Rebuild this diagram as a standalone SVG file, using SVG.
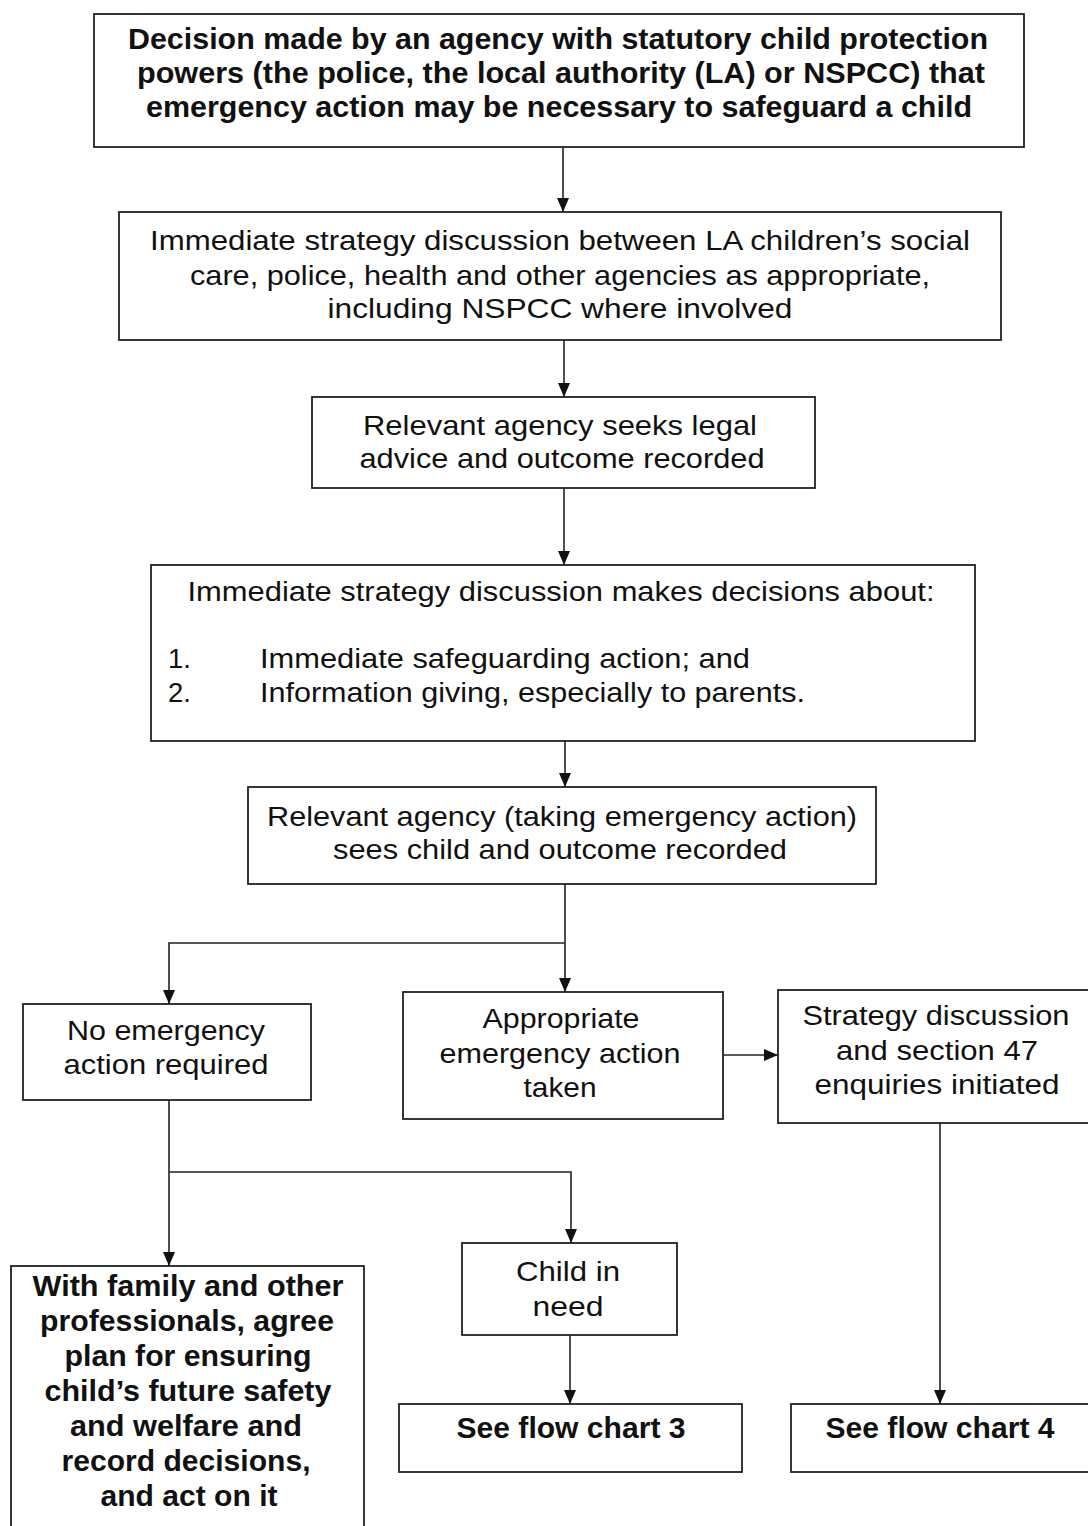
<svg xmlns="http://www.w3.org/2000/svg" width="1088" height="1526" viewBox="0 0 1088 1526">
<defs>
<marker id="ah" viewBox="0 0 14 12" refX="14" refY="6" markerWidth="14" markerHeight="12" markerUnits="userSpaceOnUse" orient="auto">
<path d="M0,0 L14,6 L0,12 z" fill="#111"/>
</marker>
<style>
rect{fill:#fff;stroke:#222;stroke-width:1.8}
text{font-family:"Liberation Sans",Arial,sans-serif;font-size:27.5px;fill:#111;text-anchor:middle}
.b{font-weight:bold;font-size:29px}
.l{text-anchor:start}
#connectors line,#connectors polyline{stroke:#222;stroke-width:1.6;fill:none}
.a{marker-end:url(#ah)}
</style>
</defs>
<rect x="0" y="0" width="1088" height="1526" style="fill:#fff;stroke:none"/>
<g id="connectors">
<line class="a" x1="563" y1="147" x2="563" y2="212"/>
<line class="a" x1="564" y1="340" x2="564" y2="397"/>
<line class="a" x1="564" y1="488" x2="564" y2="565"/>
<line class="a" x1="565" y1="741" x2="565" y2="787"/>
<line class="a" x1="565" y1="884" x2="565" y2="992"/>
<polyline class="a" points="565,943 169,943 169,1004"/>
<line class="a" x1="723" y1="1055" x2="778" y2="1055"/>
<line class="a" x1="169" y1="1100" x2="169" y2="1266"/>
<polyline class="a" points="169,1172 571,1172 571,1243"/>
<line class="a" x1="570" y1="1335" x2="570" y2="1404"/>
<line class="a" x1="940" y1="1123" x2="940" y2="1404"/>
</g>
<g id="n1">
<rect x="94" y="14" width="930" height="133"/>
<text class="b" x="558" y="49" textLength="860" lengthAdjust="spacingAndGlyphs">Decision made by an agency with statutory child protection</text>
<text class="b" x="561" y="83" textLength="848" lengthAdjust="spacingAndGlyphs">powers (the police, the local authority (LA) or NSPCC) that</text>
<text class="b" x="559" y="117" textLength="826" lengthAdjust="spacingAndGlyphs">emergency action may be necessary to safeguard a child</text>
</g>
<g id="n2">
<rect x="119" y="212" width="882" height="128"/>
<text x="560" y="250" textLength="820" lengthAdjust="spacingAndGlyphs">Immediate strategy discussion between LA children’s social</text>
<text x="560" y="285" textLength="740" lengthAdjust="spacingAndGlyphs">care, police, health and other agencies as appropriate,</text>
<text x="560" y="318" textLength="465" lengthAdjust="spacingAndGlyphs">including NSPCC where involved</text>
</g>
<g id="n3">
<rect x="312" y="397" width="503" height="91"/>
<text x="560" y="435" textLength="394" lengthAdjust="spacingAndGlyphs">Relevant agency seeks legal</text>
<text x="562" y="468" textLength="405" lengthAdjust="spacingAndGlyphs">advice and outcome recorded</text>
</g>
<g id="n4">
<rect x="151" y="565" width="824" height="176"/>
<text x="561" y="601" textLength="747" lengthAdjust="spacingAndGlyphs">Immediate strategy discussion makes decisions about:</text>
<text class="l" x="168" y="668">1.</text>
<text class="l" x="260" y="668" textLength="490" lengthAdjust="spacingAndGlyphs">Immediate safeguarding action; and</text>
<text class="l" x="168" y="702">2.</text>
<text class="l" x="260" y="702" textLength="545" lengthAdjust="spacingAndGlyphs">Information giving, especially to parents.</text>
</g>
<g id="n5">
<rect x="248" y="787" width="628" height="97"/>
<text x="562" y="826" textLength="590" lengthAdjust="spacingAndGlyphs">Relevant agency (taking emergency action)</text>
<text x="560" y="859" textLength="454" lengthAdjust="spacingAndGlyphs">sees child and outcome recorded</text>
</g>
<g id="n6">
<rect x="23" y="1004" width="288" height="96"/>
<text x="166" y="1040" textLength="198" lengthAdjust="spacingAndGlyphs">No emergency</text>
<text x="166" y="1074" textLength="205" lengthAdjust="spacingAndGlyphs">action required</text>
</g>
<g id="n7">
<rect x="403" y="992" width="320" height="127"/>
<text x="561" y="1028" textLength="157" lengthAdjust="spacingAndGlyphs">Appropriate</text>
<text x="560" y="1063" textLength="241" lengthAdjust="spacingAndGlyphs">emergency action</text>
<text x="560" y="1097" textLength="73" lengthAdjust="spacingAndGlyphs">taken</text>
</g>
<g id="n8">
<rect x="778" y="990" width="314" height="133"/>
<text x="936" y="1025" textLength="267" lengthAdjust="spacingAndGlyphs">Strategy discussion</text>
<text x="937" y="1060" textLength="202" lengthAdjust="spacingAndGlyphs">and section 47</text>
<text x="937" y="1094" textLength="245" lengthAdjust="spacingAndGlyphs">enquiries initiated</text>
</g>
<g id="n9">
<rect x="11" y="1266" width="353" height="270"/>
<text class="b" x="188" y="1296" textLength="311" lengthAdjust="spacingAndGlyphs">With family and other</text>
<text class="b" x="187" y="1331" textLength="294" lengthAdjust="spacingAndGlyphs">professionals, agree</text>
<text class="b" x="188" y="1366" textLength="247" lengthAdjust="spacingAndGlyphs">plan for ensuring</text>
<text class="b" x="188" y="1401" textLength="287" lengthAdjust="spacingAndGlyphs">child’s future safety</text>
<text class="b" x="186" y="1436" textLength="232" lengthAdjust="spacingAndGlyphs">and welfare and</text>
<text class="b" x="186" y="1471" textLength="249" lengthAdjust="spacingAndGlyphs">record decisions,</text>
<text class="b" x="189" y="1506" textLength="177" lengthAdjust="spacingAndGlyphs">and act on it</text>
</g>
<g id="n10">
<rect x="462" y="1243" width="215" height="92"/>
<text x="568" y="1281" textLength="104" lengthAdjust="spacingAndGlyphs">Child in</text>
<text x="568" y="1316" textLength="71" lengthAdjust="spacingAndGlyphs">need</text>
</g>
<g id="n11">
<rect x="399" y="1404" width="343" height="68"/>
<text class="b" x="571" y="1438" textLength="229" lengthAdjust="spacingAndGlyphs">See flow chart 3</text>
</g>
<g id="n12">
<rect x="791" y="1404" width="301" height="68"/>
<text class="b" x="940" y="1438" textLength="229" lengthAdjust="spacingAndGlyphs">See flow chart 4</text>
</g>
</svg>
